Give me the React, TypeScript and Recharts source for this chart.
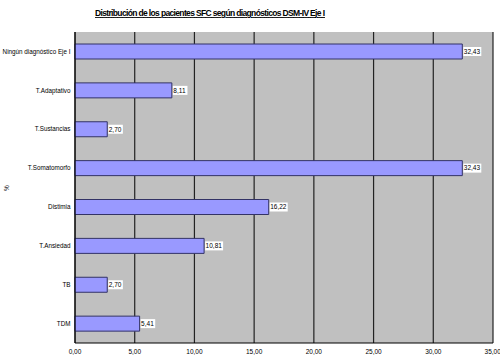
import { BarChart, Bar, XAxis, YAxis, CartesianGrid, LabelList } from 'recharts';

const categories = [
  'Ningún diagnóstico Eje I',
  'T.Adaptativo',
  'T.Sustancias',
  'T.Somatomorfo',
  'Distimia',
  'T.Ansiedad',
  'TB',
  'TDM',
];
const percentages = [32.43, 8.11, 2.7, 32.43, 16.22, 10.81, 2.7, 5.41];
const xTicks = [0, 5, 10, 15, 20, 25, 30, 35];
const bandEdges = [0, 1, 2, 3, 4, 5, 6, 7, 8];

const data = categories.map((name, i) => ({ name, value: percentages[i] }));

const font = '"Liberation Sans", Arial, sans-serif';
const fmt = (v: number) => v.toFixed(2).replace('.', ',');

const ValueLabel = (props: any) => {
  const { x, y, width, height, value } = props;
  const text = fmt(Number(value));
  const bx = x + width + 1;
  const cy = y + height / 2;
  const bw = text.length * 3.4 + 1;
  return (
    <g>
      <rect x={bx} y={cy - 4.5} width={bw} height={9} fill="#ffffff" />
      <text x={bx + 0.5} y={cy} dy="0.35em" fontSize={6.5} fontFamily={font} fill="#000">
        {text}
      </text>
    </g>
  );
};

const CategoryTick = (props: any) => {
  const { x, y, payload } = props;
  return (
    <text
      x={x}
      y={y}
      dy="0.35em"
      textAnchor="end"
      fontSize={6.3}
      fontFamily={font}
      fill="#000"
    >
      {payload.value}
    </text>
  );
};

export default function App() {
  return (
    <div style={{ position: 'absolute', left: 0, top: 0, width: 500, height: 363, background: '#fff' }}>
      <svg width={500} height={363} style={{ position: 'absolute', left: 0, top: 0 }}>
        <text
          x={210}
          y={16}
          textAnchor="middle"
          fontSize={8.5}
          fontWeight="bold"
          fontFamily={font}
          textDecoration="underline"
          textLength={230}
          lengthAdjust="spacing"
        >
          Distribución de los pacientes SFC según diagnósticos DSM-IV Eje I
        </text>
        <text
          x={9}
          y={188}
          textAnchor="middle"
          fontSize={6.5}
          fontFamily={font}
          transform="rotate(-90 9 188)"
        >
          %
        </text>
      </svg>
      <div style={{ position: 'absolute', left: 0, top: 0 }}>
        <BarChart
          width={500}
          height={363}
          data={data}
          layout="vertical"
          margin={{ top: 32, right: 7, bottom: 0, left: 0 }}
          barCategoryGap={12}
        >
          <CartesianGrid
            horizontal={false}
            stroke="#222222"
            strokeWidth={1.2}
            fill="#c0c0c0"
            fillOpacity={1}
          />
          <XAxis
            type="number"
            domain={[0, 35]}
            ticks={xTicks}
            tickFormatter={fmt}
            height={20}
            tickLine={false}
            tickSize={4}
            axisLine={{ stroke: '#000' }}
            tick={{ fontSize: 6.5, fontFamily: font, fill: '#000' }}
          />
          <YAxis
            type="category"
            dataKey="name"
            width={75}
            tickLine={false}
            tickSize={0}
            tickMargin={4.5}
            axisLine={{ stroke: '#000' }}
            tick={<CategoryTick />}
            interval={0}
          />
          <YAxis
            yAxisId="edges"
            type="number"
            domain={[0, 8]}
            ticks={bandEdges}
            width={0}
            tick={false}
            tickSize={3}
            tickLine={{ stroke: '#000' }}
            axisLine={false}
          />
          <Bar
            dataKey="value"
            fill="#9999ff"
            stroke="#333366"
            strokeWidth={1}
            barSize={15}
            isAnimationActive={false}
          >
            <LabelList dataKey="value" content={ValueLabel} />
          </Bar>
        </BarChart>
      </div>
    </div>
  );
}
